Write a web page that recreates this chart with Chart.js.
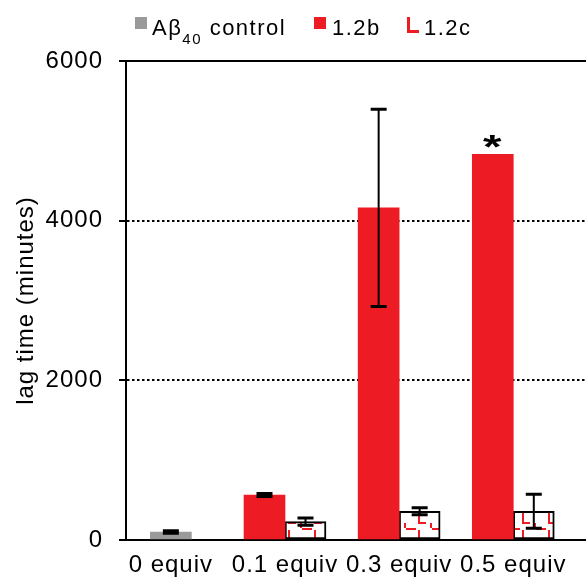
<!DOCTYPE html>
<html>
<head>
<meta charset="utf-8">
<script src="https://cdn.jsdelivr.net/npm/chart.js@4/dist/chart.umd.min.js"></script>
<style>
  body { margin: 0; background: #fff; }
  #wrap { position: relative; width: 586px; height: 580px; }
  #legend { position: absolute; left: 0; top: 0; width: 586px; height: 50px;
            font-family: "Liberation Sans", Arial, sans-serif; font-size: 22px;
            letter-spacing: 1.5px; color: #000; }
  #legend span { position: absolute; line-height: 22px; white-space: nowrap; }
  #legend sub { font-size: 15px; vertical-align: -9px; line-height: 0; }
  .box { width: 12px; height: 12px; }
  .lbox { width: 9px; height: 13px; border-left: 3px solid #ED1C24; border-bottom: 3px solid #ED1C24; }
</style>
</head>
<body>
<div id="wrap">
  <canvas id="myChart" width="586" height="580"></canvas>
  <div id="legend">
    <span class="box" style="left:135px;top:17px;background:#9a9a9a"></span>
    <span style="left:152px;top:17px">Aβ<sub>40</sub> control</span>
    <span class="box" style="left:314px;top:17px;background:#ED1C24"></span>
    <span style="left:332px;top:17px">1.2b</span>
    <span class="lbox" style="left:407px;top:17px"></span>
    <span style="left:424px;top:17px">1.2c</span>
  </div>
</div>
<script>
var categories = ['0 equiv', '0.1 equiv', '0.3 equiv', '0.5 equiv'];
var controlValues = [100, null, null, null];
var controlErrors = [15, null, null, null];
var bValues = [null, 563, 4160, 4830];
var bErrors = [null, 18, 1235, 0];
var bMarks = ['', '', '', '*'];
var cValues = [null, 230, 360, 360];
var cErrors = [null, 45, 44, 212];
var yTicks = [0, 2000, 4000, 6000];

var red = '#ED1C24';

// red "L" hatch used inside the 1.2c bars
function makePattern() {
  var t = document.createElement('canvas');
  t.width = 26; t.height = 22;
  var c = t.getContext('2d');
  c.fillStyle = '#fff';
  c.fillRect(0, 0, 26, 22);
  c.strokeStyle = red;
  c.lineWidth = 2;
  c.beginPath();
  c.moveTo(3, 2); c.lineTo(3, 17); c.lineTo(10, 17);
  c.moveTo(16, 1); c.lineTo(26, 1);
  c.moveTo(15, 17); c.lineTo(15, 22);
  c.stroke();
  return c.createPattern(t, 'repeat');
}

Chart.defaults.font.family = '"Liberation Sans", Arial, sans-serif';
Chart.defaults.color = '#000';

var spacing = {
  id: 'spacing',
  beforeDraw: function(chart) { chart.ctx.letterSpacing = '1px'; }
};

var errorBars = {
  id: 'errorBars',
  afterDatasetsDraw: function(chart) {
    var ctx = chart.ctx;
    var y = chart.scales.y;
    chart.data.datasets.forEach(function(ds, di) {
      var meta = chart.getDatasetMeta(di);
      meta.data.forEach(function(bar, i) {
        var v = ds.data[i];
        if (v == null) return;
        var e = ds.errors ? ds.errors[i] : 0;
        if (e) {
          var top = y.getPixelForValue(v + e);
          var bot = y.getPixelForValue(v - e);
          ctx.save();
          ctx.strokeStyle = '#000';
          ctx.lineWidth = 2;
          ctx.beginPath();
          ctx.moveTo(bar.x, top); ctx.lineTo(bar.x, bot);
          ctx.stroke();
          ctx.lineWidth = 3;
          ctx.beginPath();
          ctx.moveTo(bar.x - 8, top); ctx.lineTo(bar.x + 8, top);
          ctx.moveTo(bar.x - 8, bot); ctx.lineTo(bar.x + 8, bot);
          ctx.stroke();
          ctx.restore();
        }
        if (ds.marks && ds.marks[i]) {
          ctx.save();
          ctx.fillStyle = '#000';
          ctx.font = 'bold 38px "Liberation Sans", Arial, sans-serif';
          ctx.textAlign = 'center';
          ctx.textBaseline = 'alphabetic';
          ctx.translate(bar.x, bar.y + 4);
          ctx.scale(1.25, 0.85);
          ctx.fillText(ds.marks[i], 0, 0);
          ctx.restore();
        }
      });
    });
  }
};

var canvas = document.getElementById('myChart');
var ctx = canvas.getContext('2d');
var config = {
  type: 'bar',
  data: {
    labels: categories,
    datasets: [{
      label: 'Aβ40 control',
      data: controlValues,
      errors: controlErrors,
      backgroundColor: '#9a9a9a',
      borderWidth: 0
    }, {
      label: '1.2b',
      data: bValues,
      errors: bErrors,
      marks: bMarks,
      backgroundColor: red,
      borderWidth: 0
    }, {
      label: '1.2c',
      data: cValues,
      errors: cErrors,
      backgroundColor: makePattern(),
      borderColor: '#000',
      borderWidth: 2,
      borderSkipped: false
    }]
  },
  options: {
    responsive: false,
    animation: false,
    devicePixelRatio: 1,
    datasets: { bar: { skipNull: true, barThickness: 41 } },
    layout: { padding: { top: 61, right: 0, left: 0, bottom: 0 } },
    plugins: { legend: { display: false }, tooltip: { enabled: false } },
    scales: {
      x: {
        grid: { display: false },
        border: { display: true, color: '#000', width: 2 },
        ticks: { color: '#000', font: { size: 24 }, padding: 3, maxRotation: 0, autoSkip: false },
        afterFit: function(s) { s.height = 40; },
        afterBuildTicks: function(s) { s._startValue = -0.393; s._valueRange = 4.03; }
      },
      y: {
        min: 0,
        max: 6000,
        afterBuildTicks: function(s) { s.ticks = yTicks.map(function(v) { return { value: v }; }); },
        ticks: { color: '#000', font: { size: 24 }, padding: 16, callback: function(v) { return String(v); } },
        grid: {
          color: function(c) { return c.tick && c.tick.value === 0 ? 'rgba(0,0,0,0)' : '#000'; },
          lineWidth: 2,
          tickColor: '#000',
          tickLength: 7,
          tickWidth: 2
        },
        border: {
          display: true, color: '#000', width: 2,
          dash: function(c) { return c.tick && c.tick.value < 6000 ? [2.5, 2.5] : []; }
        },
        title: { display: true, text: 'lag time (minutes)', color: '#000', font: { size: 24 }, padding: { top: 12, bottom: 0 } },
        afterFit: function(s) { s.width = 126; }
      }
    }
  },
  plugins: [spacing, errorBars]
};

var chart = new Chart(ctx, config);
</script>
</body>
</html>
